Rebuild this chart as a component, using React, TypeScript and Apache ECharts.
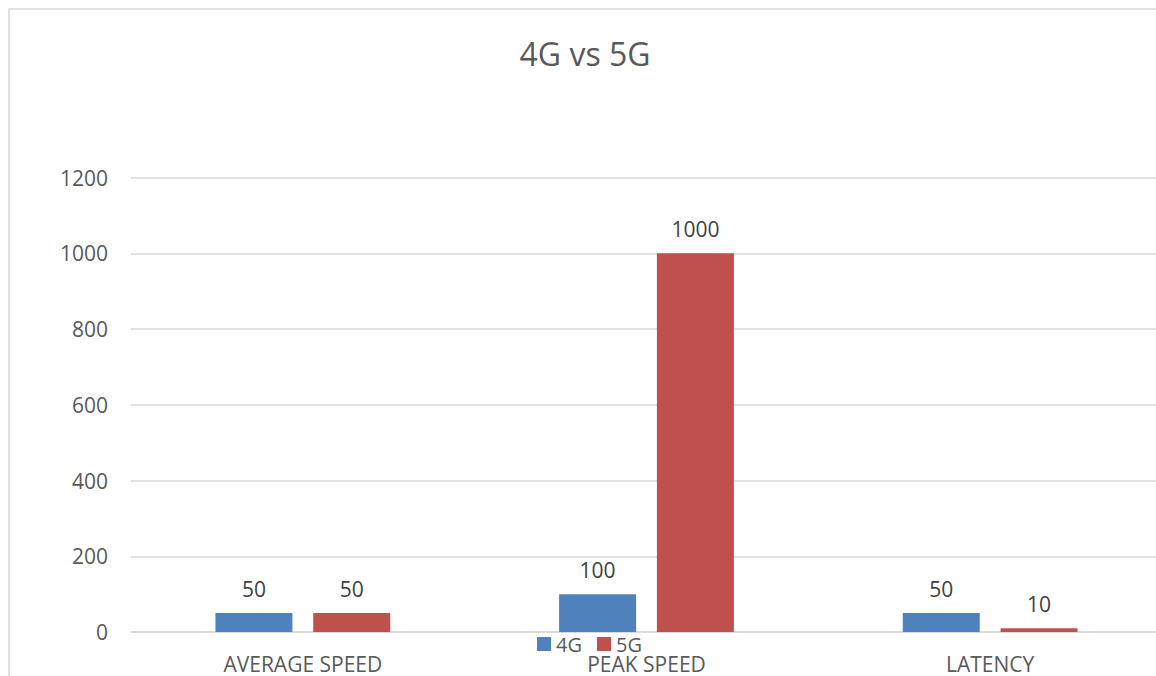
import React, { useEffect, useRef } from "react";
import * as echarts from "echarts";

const categories = ["AVERAGE SPEED", "PEAK SPEED", "LATENCY"];
const series4G = [50, 100, 50];
const series5G = [50, 1000, 10];
const yTicks = { min: 0, max: 1200, interval: 200 };
const titleText = "4G vs 5G";

const FONT = "'Open Sans', 'Noto Sans', sans-serif";

export default function App() {
  const ref = useRef<HTMLDivElement>(null);
  useEffect(() => {
    if (!ref.current) return;
    const chart = echarts.init(ref.current, null, { renderer: "svg" });
    const labelStyle = {
      show: true,
      position: "top" as const,
      distance: 14,
      fontSize: 21,
      fontFamily: FONT,
      color: "#404040",
    };
    chart.setOption({
      animation: false,
      backgroundColor: "#ffffff",
      textStyle: { fontFamily: FONT },
      graphic: [
        {
          type: "rect",
          shape: { x: 9, y: 9, width: 1180, height: 700 },
          style: { fill: "none", stroke: "#d9d9d9", lineWidth: 1.5 },
          silent: true,
        },
        {
          type: "text",
          x: 585,
          y: 53,
          style: {
            text: titleText,
            fontSize: 32,
            fontFamily: FONT,
            fill: "#595959",
            textAlign: "center",
            textVerticalAlign: "middle",
          },
        },
      ],
      legend: {
        data: ["4G", "5G"],
        left: 532,
        top: 629,
        padding: 5,
        itemWidth: 14,
        itemHeight: 14,
        itemGap: 15,
        icon: "rect",
        textStyle: { fontSize: 20, lineHeight: 16, fontFamily: FONT, color: "#595959" },
      },
      grid: { left: 131, width: 1031, top: 177.5, bottom: 44, containLabel: false },
      xAxis: {
        type: "category",
        data: categories,
        axisLine: { show: true, lineStyle: { color: "#d9d9d9", width: 1.5 } },
        axisTick: { show: false },
        axisLabel: { fontSize: 21, fontFamily: FONT, color: "#595959", margin: 21 },
      },
      yAxis: {
        type: "value",
        min: yTicks.min,
        max: yTicks.max,
        interval: yTicks.interval,
        axisLine: { show: false },
        axisTick: { show: false },
        splitLine: { lineStyle: { color: "#d9d9d9", width: 1.5 } },
        axisLabel: {
          fontSize: 21,
          fontFamily: FONT,
          color: "#595959",
          margin: 23,
          formatter: (v: number) => String(v),
        },
      },
      series: [
        {
          name: "4G",
          type: "bar",
          data: series4G,
          barWidth: 77,
          barGap: "27%",
          itemStyle: { color: "#4f81bd" },
          label: labelStyle,
        },
        {
          name: "5G",
          type: "bar",
          data: series5G,
          barWidth: 77,
          barGap: "27%",
          itemStyle: { color: "#c0504d" },
          label: labelStyle,
        },
      ],
    });
    return () => chart.dispose();
  }, []);
  return (
    <div
      style={{
        position: "fixed",
        left: 0,
        top: 0,
        width: 1156,
        height: 676,
        overflow: "hidden",
        background: "#ffffff",
      }}
    >
      <div ref={ref} style={{ width: 1170, height: 676 }} />
    </div>
  );
}
